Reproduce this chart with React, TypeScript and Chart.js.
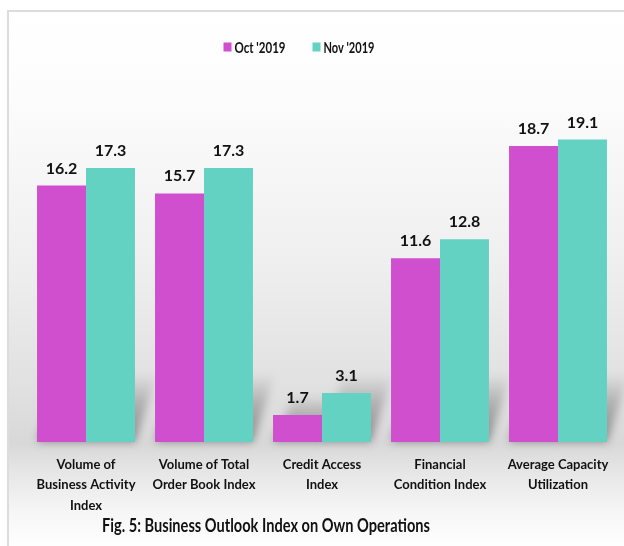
import React, { useEffect, useRef } from "react";
import { Chart, registerables } from "chart.js";

Chart.register(...registerables);

const categories: string[][] = [
  ["Volume of", "Business Activity", "Index"],
  ["Volume of Total", "Order Book Index"],
  ["Credit Access", "Index"],
  ["Financial", "Condition Index"],
  ["Average Capacity", "Utilization"],
];
const seriesNames = ["Oct '2019", "Nov '2019"];
const octValues = [16.2, 15.7, 1.7, 11.6, 18.7];
const novValues = [17.3, 17.3, 3.1, 12.8, 19.1];
const colors = ["#cf4fcf", "#63d2c3"];
const titleText = "Fig. 5: Business Outlook Index on Own Operations";

const FONT = "Lato, 'Open Sans', sans-serif";

const barShadows = {
  id: "barShadows",
  beforeDatasetsDraw(chart: any) {
    const ctx = chart.ctx;
    ctx.save();
    ctx.filter = "blur(4px)";
    chart.data.datasets.forEach((_ds: any, i: number) => {
      const meta = chart.getDatasetMeta(i);
      meta.data.forEach((bar: any) => {
        const half = bar.width / 2;
        const base = bar.base;
        const h = base - bar.y;
        const sh = Math.min(h + 20, 68);
        const dx = 22;
        const g = ctx.createLinearGradient(0, base, 0, base - sh);
        g.addColorStop(0, "rgba(80,80,80,0.6)");
        g.addColorStop(0.6, "rgba(80,80,80,0.3)");
        g.addColorStop(1, "rgba(80,80,80,0.0)");
        ctx.fillStyle = g;
        ctx.beginPath();
        ctx.moveTo(bar.x - half, base);
        ctx.lineTo(bar.x + half, base);
        ctx.lineTo(bar.x + half + dx, base - sh);
        ctx.lineTo(bar.x - half + dx, base - sh);
        ctx.closePath();
        ctx.fill();
      });
    });
    ctx.restore();
  },
};

const valueLabels = {
  id: "valueLabels",
  afterDatasetsDraw(chart: any) {
    const ctx = chart.ctx;
    ctx.save();
    ctx.font = `bold 16px ${FONT}`;
    ctx.fillStyle = "#111";
    ctx.textAlign = "center";
    ctx.textBaseline = "alphabetic";
    chart.data.datasets.forEach((ds: any, i: number) => {
      const meta = chart.getDatasetMeta(i);
      meta.data.forEach((bar: any, j: number) => {
        ctx.fillText(String(ds.data[j].toFixed(1)), bar.x, bar.y - 12);
      });
    });
    ctx.restore();
  },
};

const legendAndTitle = {
  id: "legendAndTitle",
  afterDraw(chart: any) {
    const ctx = chart.ctx;
    ctx.save();
    ctx.font = `bold 15px ${FONT}`;
    ctx.textBaseline = "middle";
    ctx.textAlign = "left";
    const cy = 47;
    const boxW = 8;
    const boxH = 9;
    const gap = 3;
    const itemGap = 27;
    const widths = seriesNames.map((n) => Math.min(51, ctx.measureText(n).width));
    const total = widths.reduce((a, w) => a + boxW + gap + w, 0) + itemGap * (seriesNames.length - 1);
    let x = 299 - total / 2;
    seriesNames.forEach((n, i) => {
      ctx.fillStyle = colors[i];
      ctx.fillRect(x, cy - boxH / 2, boxW, boxH);
      ctx.fillStyle = "#111";
      ctx.fillText(n, x + boxW + gap, cy + 1, widths[i]);
      x += boxW + gap + widths[i] + itemGap;
    });
    ctx.font = `bold 18px ${FONT}`;
    ctx.textAlign = "center";
    ctx.fillStyle = "#111";
    ctx.fillText(titleText, 266, 526, 328);
    ctx.restore();
  },
};

export default function App() {
  const ref = useRef<HTMLCanvasElement | null>(null);
  useEffect(() => {
    if (!ref.current) return;
    const chart = new Chart(ref.current, {
      type: "bar",
      data: {
        labels: categories,
        datasets: [
          { label: seriesNames[0], data: octValues, backgroundColor: colors[0] },
          { label: seriesNames[1], data: novValues, backgroundColor: colors[1] },
        ],
      },
      options: {
        animation: false,
        responsive: false,
        maintainAspectRatio: false,
        layout: { padding: { left: 27, right: 7, top: 62, bottom: 30 } },
        datasets: { bar: { categoryPercentage: 0.83, barPercentage: 1.0 } },
        plugins: {
          legend: { display: false },
          tooltip: { enabled: false },
          title: { display: false },
        },
        scales: {
          x: {
            grid: { display: false, drawTicks: false },
            border: { display: false },
            ticks: {
              color: "#111",
              font: { family: FONT, size: 13, weight: "bold", lineHeight: 1.55 },
              padding: 13,
              maxRotation: 0,
              autoSkip: false,
            },
            afterFit(scale: any) {
              scale.height = 74;
            },
          },
          y: { display: false, min: 0, max: 24 },
        },
      },
      plugins: [barShadows, valueLabels, legendAndTitle],
    });
    return () => chart.destroy();
  }, []);

  return (
    <div style={{ position: "absolute", left: 0, top: 0, width: 624, height: 546, background: "#fff", overflow: "hidden" }}>
      <div
        style={{
          position: "absolute",
          left: 7,
          top: 10,
          width: 640,
          height: 560,
          borderLeft: "2px solid #dcdcdc",
          borderTop: "2px solid #dcdcdc",
          background:
            "linear-gradient(to bottom, #ffffff 0px, #fcfcfc 90px, #efefef 250px, #e0e0e0 380px, #d8d8d8 432px, #e4e4e4 455px, #f6f6f6 500px, #ffffff 536px)",
        }}
      />
      <canvas ref={ref} width={624} height={546} style={{ position: "absolute", left: 0, top: 0, display: "block" }} />
    </div>
  );
}
